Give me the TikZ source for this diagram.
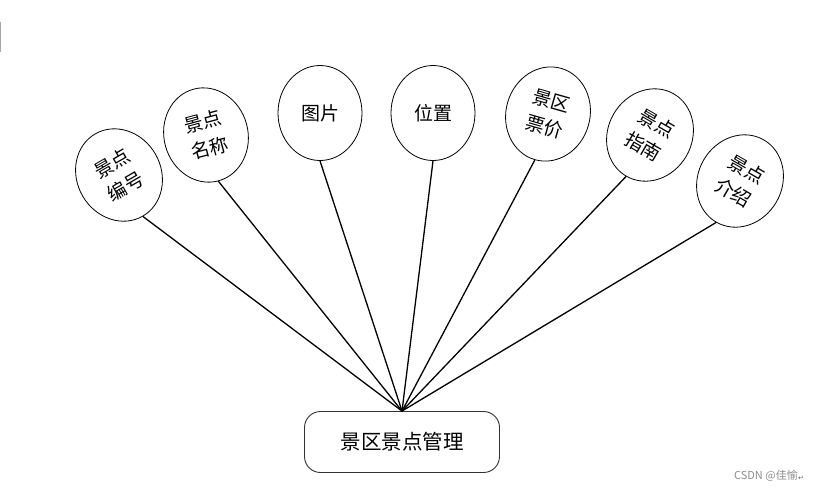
\documentclass[tikz,border=0pt]{standalone}
\usepackage{fontspec}
\newfontfamily\cjk{Noto Sans CJK SC}
\newfontfamily\symfnt{DejaVu Sans}
\usetikzlibrary{shapes.geometric}
\begin{document}
\begin{tikzpicture}[x=1pt,y=-1pt,
  attr/.style={ellipse, draw, line width=0.8pt, minimum width=84pt, minimum height=95pt, inner sep=0pt, align=center, font=\cjk\fontsize{19}{27}\selectfont},
  rootbox/.style={rectangle, rounded corners=16pt, draw=black!80, line width=0.9pt, minimum width=195pt, minimum height=61pt, font=\cjk\fontsize{20.5}{24}\selectfont},
  link/.style={line width=1.3pt},
  wmark/.style={font=\cjk\fontsize{11}{13}\selectfont, text=black!45, inner sep=0pt}]
\useasboundingbox (0,0) rectangle (816,491);
\draw[black!35, line width=1pt] (0.5,22) -- (0.5,52);
\node[attr, rotate=30] (e1) at (119,175) {景点\\编号};
\node[attr, rotate=15] (e2) at (206,135) {景点\\名称};
\node[attr] (e3) at (320,113) {图片};
\node[attr] (e4) at (433,113) {位置};
\node[attr, rotate=-16] (e5) at (548,114) {景区\\票价};
\node[attr, rotate=-30] (e6) at (650,135) {景点\\指南};
\node[attr, rotate=-30] (e7) at (740,181) {景点\\介绍};
\node[rootbox] (root) at (402,442) {景区景点管理};
\foreach \e in {e1,e2,e3,e4,e5,e6,e7}
  \draw[link] (root.north) -- (\e.south);
\node[wmark, anchor=east] (wm) at (798,476) {CSDN @佳愉};
\node[wmark, anchor=west, font=\symfnt\fontsize{7}{8}\selectfont, text=black!60, yshift=-2pt] (ret) at (wm.east) {↵};
\end{tikzpicture}
\end{document}
